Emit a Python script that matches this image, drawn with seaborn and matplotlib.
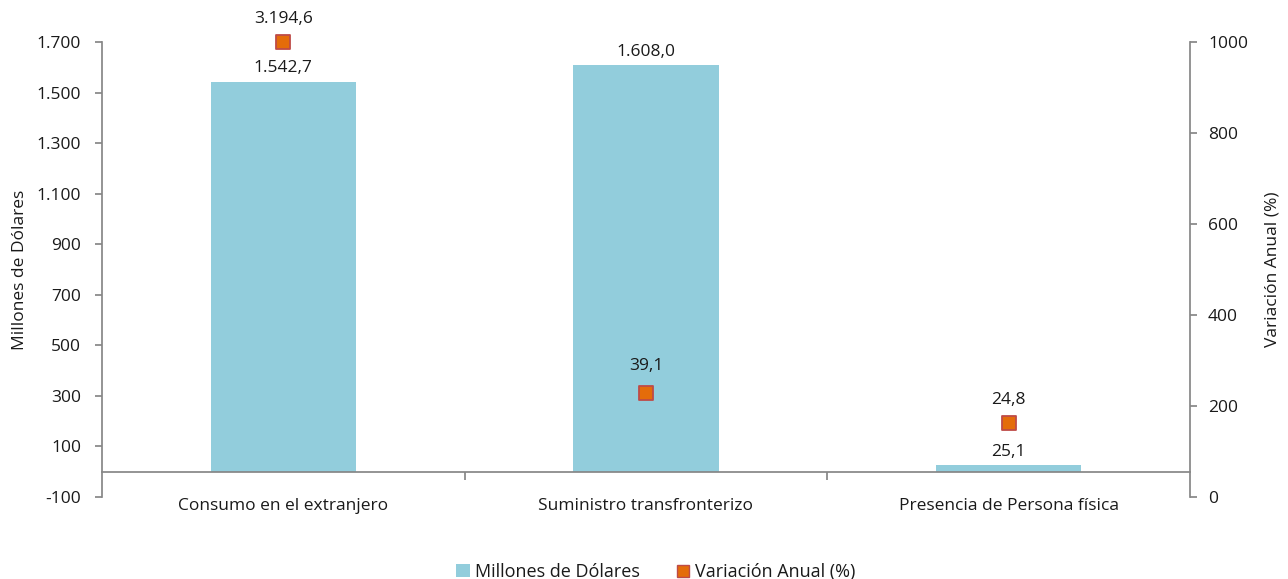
import numpy as np
import seaborn as sns
import matplotlib.pyplot as plt
from matplotlib.ticker import FuncFormatter
from matplotlib.lines import Line2D
from matplotlib.patches import Patch

categorias = ['Consumo en el extranjero', 'Suministro transfronterizo', 'Presencia de Persona física']
millones = [1542.7, 1608.0, 25.1]
variacion_label = [3194.6, 39.1, 24.8]
# position of the markers as drawn on the right axis (first one is cut at the top)
variacion_pos = [1000, 228, 162]

AZUL = '#92CDDC'
NARANJA = '#E46C0A'
BORDE = '#BE4B48'
GRIS = '#868686'
TEXTO = '#1a1a1a'


def fmt_es(v, dec=1):
    s = f'{v:,.{dec}f}'
    return s.replace(',', 'X').replace('.', ',').replace('X', '.')


sns.set_theme(style='white')
plt.rcParams['font.family'] = ['Open Sans', 'DejaVu Sans']
plt.rcParams['font.size'] = 12.5
plt.rcParams['text.color'] = TEXTO
plt.rcParams['axes.labelcolor'] = TEXTO
plt.rcParams['xtick.labelcolor'] = TEXTO
plt.rcParams['ytick.labelcolor'] = TEXTO

fig = plt.figure(figsize=(12.88, 5.79), dpi=100)
ax = fig.add_axes([0.0792, 0.1416, 0.9239 - 0.0792, 0.9275 - 0.1416])

sns.barplot(x=np.arange(3), y=millones, color=AZUL, saturation=1, width=0.4, ax=ax, native_scale=True)
for p in ax.patches:
    p.set_edgecolor('none')

ax.set_xlim(-0.5, 2.5)
ax.set_ylim(-100, 1700)
ax.set_yticks(np.arange(-100, 1701, 200))
ax.yaxis.set_major_formatter(FuncFormatter(lambda v, _: fmt_es(v, 0)))
ax.set_ylabel('Millones de Dólares', fontsize=12.5, labelpad=6)

for s in ['top', 'right']:
    ax.spines[s].set_visible(False)
ax.spines['left'].set_color(GRIS)
ax.spines['bottom'].set_color(GRIS)
ax.spines['bottom'].set_position(('data', 0))

ax.set_xticks([0.5, 1.5])
ax.set_xticklabels([])
ax.set_xticks([0, 1, 2], minor=True)
ax.set_xticklabels(categorias, minor=True)
ax.tick_params(axis='x', which='major', direction='out', length=6, color=GRIS, bottom=True)
ax.tick_params(axis='x', which='minor', length=0, pad=19, labelsize=12.5)
ax.tick_params(axis='y', direction='out', length=5, color=GRIS, left=True, labelsize=12.5, pad=10)

for i, v in enumerate(millones):
    ax.annotate(fmt_es(v), (i, v), xytext=(0, 4), textcoords='offset points',
                ha='center', va='bottom', fontsize=12.5)

ax2 = ax.twinx()
ax2.set_ylim(0, 1000)
ax2.set_yticks(np.arange(0, 1001, 200))
sns.scatterplot(x=np.arange(3), y=variacion_pos, marker='s', s=110, color=NARANJA,
                edgecolor=BORDE, linewidth=1.3, ax=ax2, zorder=5, clip_on=False)
for i, (v, lab) in enumerate(zip(variacion_pos, variacion_label)):
    dy = 14 if i == 1 else 11
    ax2.annotate(fmt_es(lab), (i, v), xytext=(0, dy), textcoords='offset points',
                 ha='center', va='bottom', fontsize=12.5)

for s in ['top', 'left', 'bottom']:
    ax2.spines[s].set_visible(False)
ax2.spines['right'].set_color(GRIS)
ax2.tick_params(axis='y', direction='out', length=5, color=GRIS, right=True, labelsize=12.5, pad=8)
ax2.set_ylabel('Variación Anual (%)', fontsize=12.5, labelpad=12)

handles = [Patch(facecolor=AZUL, edgecolor='none', label='Millones de Dólares'),
           Line2D([], [], marker='s', linestyle='none', markersize=9, markerfacecolor=NARANJA,
                  markeredgecolor=BORDE, label='Variación Anual (%)')]
fig.legend(handles=handles, loc='center', bbox_to_anchor=(0.509, 0.012), ncol=2, frameon=False,
           fontsize=13, handlelength=0.8, handletextpad=0.25, columnspacing=2.0)

fig.savefig('out.png', dpi=100)
